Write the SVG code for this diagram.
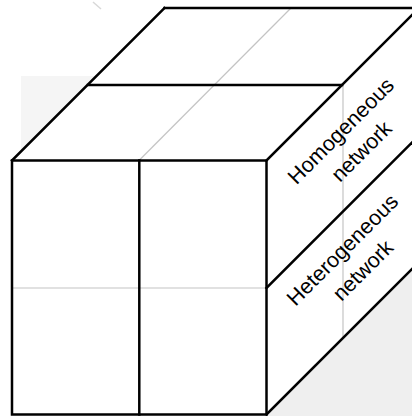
<svg xmlns="http://www.w3.org/2000/svg" width="412" height="416" viewBox="0 0 412 416">
  <style>
    .edge { stroke: #000; stroke-width: 2.5; fill: none; stroke-linecap: square; }
    .hid { stroke: #c4c4c4; stroke-width: 1.2; fill: none; }
    .lbl { font-family: "Liberation Sans", Arial, sans-serif; font-size: 21.5px; fill: #000; text-anchor: middle; }
  </style>
  <rect width="412" height="416" fill="#fff"/>
  <!-- background artefacts -->
  <rect x="21" y="76" width="90" height="80" fill="#f5f5f5"/>
  <line x1="93" y1="2" x2="101" y2="9" stroke="#d8d8d8" stroke-width="1.5"/>
  <polygon points="266,416 412,270 412,416" fill="#efefef"/>
  <g id="cube">
    <g id="top-face">
      <polygon points="12,160.5 164,8 418,8 266,160.5" fill="#fff"/>
    </g>
    <g id="front-face">
      <rect x="12" y="160.5" width="254.5" height="254" fill="#fff"/>
    </g>
    <g id="right-face">
      <polygon points="266.5,160.5 418,9 418,263 266.5,414.5" fill="#fff"/>
    </g>
  </g>
  <g id="connectors">
    <!-- hidden / guide lines -->
    <line class="hid" x1="139" y1="160.5" x2="291" y2="8"/>
    <line class="hid" x1="12" y1="288" x2="266" y2="288"/>
    <line class="hid" x1="343" y1="85" x2="343" y2="338"/>
    <!-- visible edges -->
    <line class="edge" x1="12" y1="160.5" x2="164.5" y2="8"/>
    <line class="edge" x1="164.5" y1="8" x2="414" y2="8"/>
    <line class="edge" x1="266.5" y1="160.5" x2="418" y2="9"/>
    <line class="edge" x1="88" y1="85" x2="342" y2="85"/>
    <rect class="edge" x="12" y="160.5" width="254.5" height="254" stroke-linecap="butt"/>
    <line class="edge" x1="139.3" y1="160.5" x2="139.3" y2="414.5"/>
    <line class="edge" x1="266.5" y1="288" x2="414" y2="140.5"/>
    <line class="edge" x1="266.5" y1="414.5" x2="414" y2="267"/>
  </g>
  <g id="homogeneous" transform="translate(346,136) rotate(-45)">
    <text class="lbl" x="0" y="0">Homogeneous</text>
    <text class="lbl" x="0" y="29">network</text>
  </g>
  <g id="heterogeneous" transform="translate(347.5,255) rotate(-45)">
    <text class="lbl" x="0" y="0">Heterogeneous</text>
    <text class="lbl" x="0" y="29">network</text>
  </g>
</svg>
